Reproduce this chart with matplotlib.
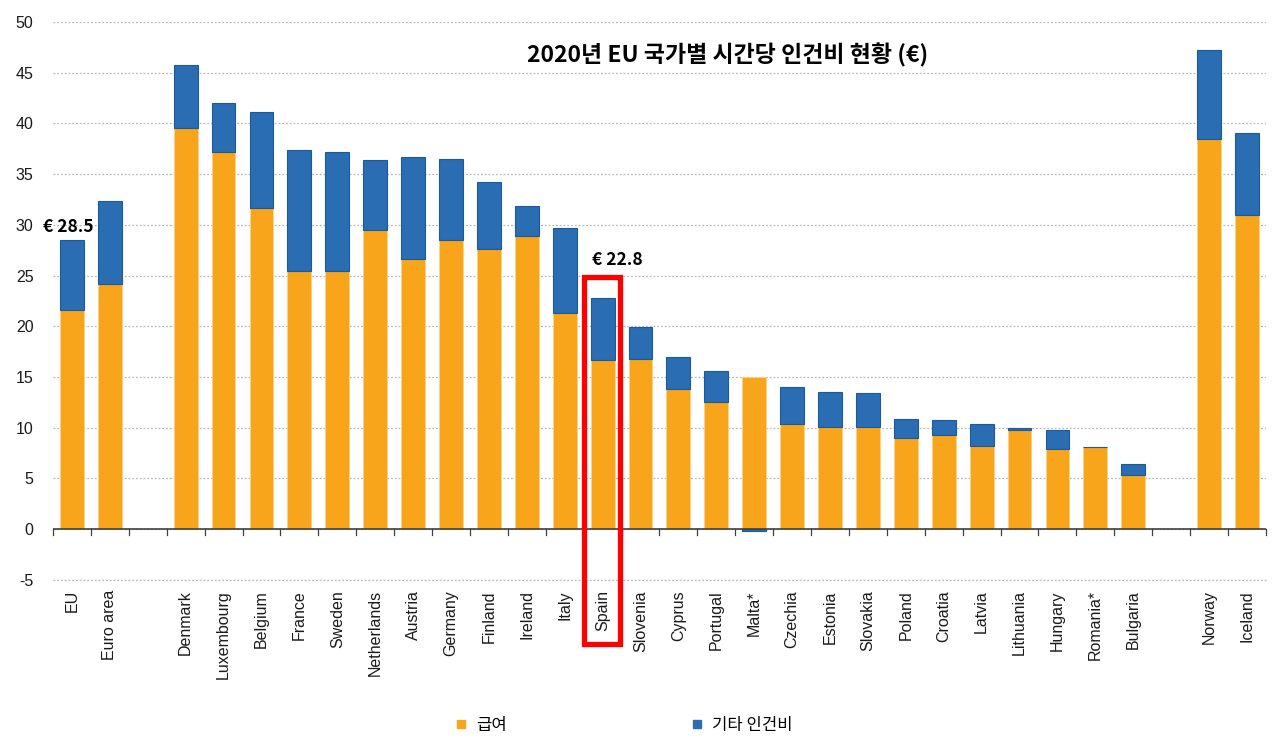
import matplotlib.pyplot as plt
import numpy as np
from matplotlib.lines import Line2D
from matplotlib.patches import Rectangle

plt.rcParams['font.family'] = ['Liberation Sans', 'Noto Sans CJK KR', 'DejaVu Sans']
plt.rcParams['axes.unicode_minus'] = False

# hourly labour cost 2020, EUR: wages + other labour costs
eu_names = ['EU', 'Euro area']
eu_wages = [21.6, 24.2]
eu_other = [6.9, 8.1]

member_names = ['Denmark', 'Luxembourg', 'Belgium', 'France', 'Sweden', 'Netherlands',
                'Austria', 'Germany', 'Finland', 'Ireland', 'Italy', 'Spain', 'Slovenia',
                'Cyprus', 'Portugal', 'Malta*', 'Czechia', 'Estonia', 'Slovakia', 'Poland',
                'Croatia', 'Latvia', 'Lithuania', 'Hungary', 'Romania*', 'Bulgaria']
member_wages = [39.5, 37.2, 31.7, 25.4, 25.4, 29.5, 26.6, 28.5, 27.6, 28.9, 21.3, 16.7, 16.8,
                13.8, 12.5, 15.0, 10.4, 10.1, 10.1, 8.95, 9.25, 8.2, 9.75, 7.9, 8.1, 5.3]
member_other = [6.3, 4.8, 9.4, 12.0, 11.8, 6.9, 10.1, 8.0, 6.6, 3.0, 8.4, 6.1, 3.1,
                3.2, 3.1, -0.2, 3.6, 3.45, 3.3, 1.95, 1.55, 2.2, 0.25, 1.85, 0.0, 1.1]

efta_names = ['Norway', 'Iceland']
efta_wages = [38.5, 31.0]
efta_other = [8.7, 8.0]

title = '2020년 EU 국가별 시간당 인건비 현황 (€)'
label_wages = '급여'
label_other = '기타 인건비'

orange = '#F9A51B'
blue = '#2A6DB3'


def main():
    fig = plt.figure(figsize=(12.8, 7.48), dpi=100)
    ax = fig.add_axes([0.0414, 0.2240, 0.9476, 0.7470])

    # groups separated by one empty slot
    names, wages, other, pos = [], [], [], []
    start = 0
    for n, w, o in [(eu_names, eu_wages, eu_other),
                    (member_names, member_wages, member_other),
                    (efta_names, efta_wages, efta_other)]:
        names += n
        wages += w
        other += o
        pos += list(range(start, start + len(n)))
        start += len(n) + 1
    wages = np.array(wages)
    other = np.array(other)
    pos = np.array(pos)
    n_slots = start - 1

    width = 0.63
    ax.bar(pos, wages, width, color=orange, edgecolor='#FBD38A', linewidth=0.6, zorder=3)
    bottom = np.where(other >= 0, wages, 0)
    ax.bar(pos, other, width, bottom=bottom, color=blue, edgecolor='#1B5A9E',
           linewidth=0.8, zorder=3)

    ax.set_xlim(-0.5, n_slots - 0.5)
    ax.set_ylim(-5.06, 50.02)
    ax.set_yticks(np.arange(-5, 51, 5))
    ax.yaxis.grid(True, linestyle=(0, (1.5, 1.5)), color='#B8B8B8', linewidth=0.9, zorder=0)
    ax.axhline(-5, linestyle=(0, (1.5, 1.5)), color='#B8B8B8', linewidth=0.9, zorder=1,
               clip_on=False)
    ax.set_axisbelow(True)
    ax.axhline(0, color='#404040', linewidth=1.2, zorder=4)

    for s in ['left', 'right', 'top', 'bottom']:
        ax.spines[s].set_visible(False)

    ax.set_xticks(pos)
    ax.set_xticklabels(names, rotation=90, fontsize=11.5, color='#1a1a1a', va='top')
    ax.tick_params(axis='x', which='major', length=0, pad=7)
    ax.tick_params(axis='y', length=0, pad=14, labelsize=11.5, labelcolor='#1a1a1a')

    # tick marks between categories on the zero line
    for b in np.arange(-0.5, n_slots, 1.0):
        ax.plot([b, b], [0, -0.55], color='#404040', linewidth=0.9, zorder=4, clip_on=False)

    kr = ['Noto Sans CJK KR', 'DejaVu Sans']
    ax.text(17.3, 46.7, title, ha='center', va='center', fontsize=16.5,
            fontweight='bold', family=kr, zorder=5)
    ax.text(-0.1, 29.8, '€ 28.5', ha='center', va='center', fontsize=12.5,
            fontweight='bold', family=kr, zorder=5)
    spain = pos[names.index('Spain')]
    ax.text(spain + 0.4, 26.5, '€ 22.8', ha='center', va='center', fontsize=12.5,
            fontweight='bold', family=kr, zorder=5)

    ax.add_patch(Rectangle((spain - 0.5, -11.3), 0.95, 36.2, fill=False,
                           edgecolor='#FF0000', linewidth=3.8, zorder=6, clip_on=False))

    handles = [Line2D([], [], marker='s', linestyle='', color=orange, markersize=6),
               Line2D([], [], marker='s', linestyle='', color=blue, markersize=6)]
    fig.legend(handles, [label_wages, label_other], loc='center', ncol=2,
               bbox_to_anchor=(0.487, 0.03), frameon=False, handlelength=0.8,
               handletextpad=0.5, columnspacing=11, prop={'family': kr, 'size': 12})

    fig.savefig('out.png', dpi=100)


if __name__ == '__main__':
    main()
